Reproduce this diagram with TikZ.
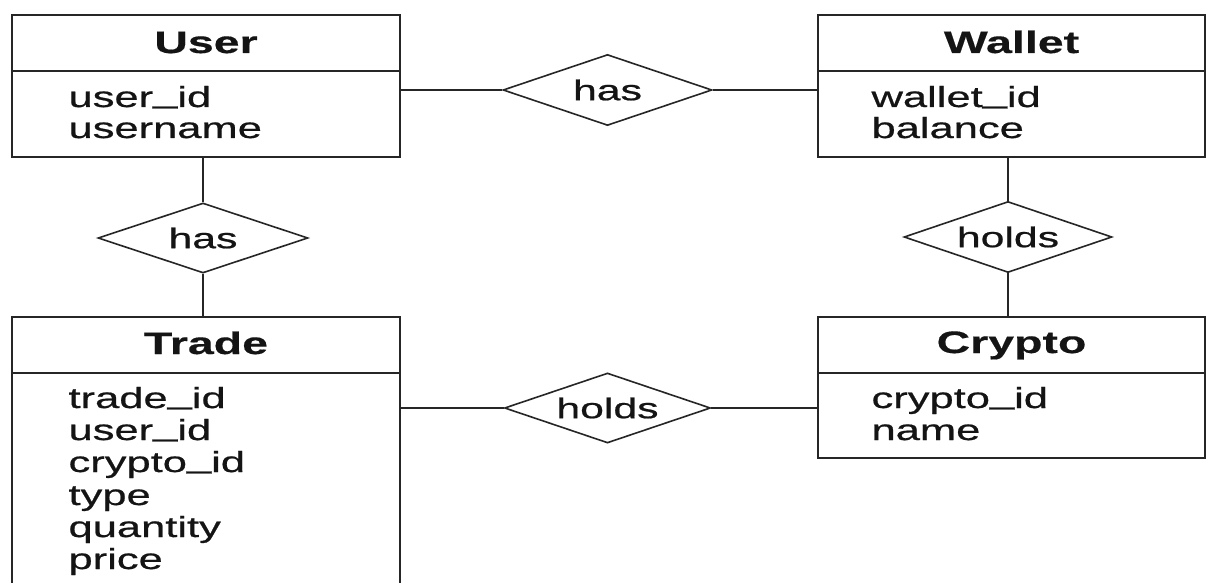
\documentclass[tikz,border=0pt]{standalone}
\usepackage{fontspec}
\setmainfont{Liberation Sans}[FakeStretch=1.5, UprightFeatures={FakeBold=0.7}, BoldFeatures={FakeBold=0.4}]
\usetikzlibrary{shapes.geometric}
\definecolor{linecol}{HTML}{262626}
\definecolor{txt}{HTML}{141414}
% underscore sitting on the baseline
\newcommand\usc{\raisebox{0.15em}{\_}}
\begin{document}
\begin{tikzpicture}[x=1pt,y=-1pt,
  ink/.style={draw=linecol, line width=1.6pt},
  entity/.style={ink, rectangle, inner sep=0pt},
  rel/.style={ink, diamond, aspect=3, inner sep=0pt, fill=white,
    font=\fontsize{28.5}{34}\selectfont, text=txt},
  title/.style={anchor=base, font=\bfseries\fontsize{31}{36}\selectfont, text=txt},
  attr/.style={anchor=base west, font=\fontsize{29}{34}\selectfont, text=txt},
  link/.style={ink}]
\useasboundingbox (0,0) rectangle (1208,583);
\clip (0,0) rectangle (1208,583);
\fill[white] (0,0) rectangle (1208,583);

% entity boxes
\node[entity, minimum width=388pt, minimum height=142pt] (user)   at (206,86) {};
\node[entity, minimum width=387pt, minimum height=142pt] (wallet) at (1011.5,86) {};
\node[entity, minimum width=388pt, minimum height=283pt] (trade)  at (206,458.5) {};
\node[entity, minimum width=387pt, minimum height=141pt] (crypto) at (1011.5,387.5) {};

% header dividers
\draw[ink] (user.west |- 0,71) -- (user.east |- 0,71);
\draw[ink] (wallet.west |- 0,71) -- (wallet.east |- 0,71);
\draw[ink] (trade.west |- 0,373) -- (trade.east |- 0,373);
\draw[ink] (crypto.west |- 0,373) -- (crypto.east |- 0,373);

% entity titles
\node[title] (userT)   at (206,53)    {User};
\node[title] (walletT) at (1011.5,53) {Wallet};
\node[title] (tradeT)  at (206,354)   {Trade};
\node[title] (cryptoT) at (1011.5,353) {Crypto};

% attributes
\node[attr] (u1) at (65,107) {user\usc id};
\node[attr] (u2) at (65,138) {username};
\node[attr] (w1) at (868,107) {wallet\usc id};
\node[attr] (w2) at (868,138) {balance};
\node[attr] (t1) at (65,408) {trade\usc id};
\node[attr] (t2) at (65,440) {user\usc id};
\node[attr] (t3) at (65,472) {crypto\usc id};
\node[attr] (t4) at (65,505) {type};
\node[attr] (t5) at (65,537) {quantity};
\node[attr] (t6) at (65,569) {price};
\node[attr] (c1) at (868,408) {crypto\usc id};
\node[attr] (c2) at (868,440) {name};

% relationships
\node[rel, minimum width=209pt, minimum height=71pt] (hasA)   at (607.5,90) {has};
\node[rel, minimum width=210pt, minimum height=70pt] (hasB)   at (203,238) {has};
\node[rel, minimum width=208pt, minimum height=71pt] (holdsA) at (1008,237) {holds};
\node[rel, minimum width=206pt, minimum height=70pt] (holdsB) at (607.5,408) {holds};

% connectors
\draw[link] (user.east |- hasA) -- (hasA.west);
\draw[link] (hasA.east) -- (hasA -| wallet.west);
\draw[link] (hasB.north) -- (hasB |- user.south);
\draw[link] (hasB.south) -- (hasB |- trade.north);
\draw[link] (holdsA.north) -- (holdsA |- wallet.south);
\draw[link] (holdsA.south) -- (holdsA |- crypto.north);
\draw[link] (trade.east |- holdsB) -- (holdsB.west);
\draw[link] (holdsB.east) -- (holdsB -| crypto.west);
\end{tikzpicture}
\end{document}
